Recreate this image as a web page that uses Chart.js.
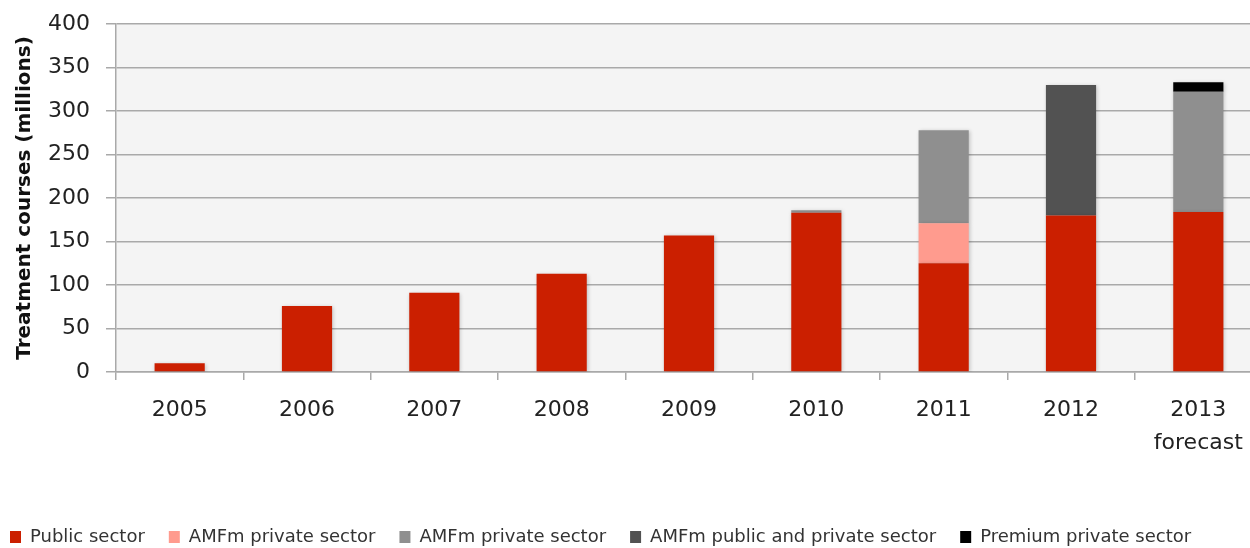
<!DOCTYPE html>
<html>
<head>
<meta charset="utf-8">
<script src="https://cdn.jsdelivr.net/npm/chart.js@4/dist/chart.umd.min.js"></script>
<style>
  html, body { margin: 0; padding: 0; background: #ffffff; overflow: hidden; width: 1250px; height: 548px; }
  canvas { display: block; }
</style>
</head>
<body>
<canvas id="chart" width="1262" height="556"></canvas>
<script>
// Years on the category axis (last one carries a second line)
const categories = ['2005', '2006', '2007', '2008', '2009', '2010', '2011', '2012', ['2013', 'forecast']];

// Treatment courses, millions, per segment of each stacked bar
const publicSector        = [10, 76, 91, 113, 157, 183, 125, 180, 184];
const amfmPrivateFirst    = [null, null, null, null, null, null, 46, null, null];
const amfmPrivateSecond   = [null, null, null, null, null, 3, 107, null, 138];
const amfmPublicPrivate   = [null, null, null, null, null, null, null, 150, null];
const premiumPrivate      = [null, null, null, null, null, null, null, null, 11];

// Value axis ticks
const yTicks = [0, 50, 100, 150, 200, 250, 300, 350, 400];

const FONT = "'DejaVu Sans', 'Open Sans', sans-serif";
const GRID = '#a9a9a9';

// Light grey fill behind the plotting area
const plotBackground = {
  id: 'plotBackground',
  beforeDraw(chart) {
    const { ctx, chartArea: a } = chart;
    ctx.save();
    ctx.fillStyle = '#f4f4f4';
    ctx.fillRect(a.left, a.top, a.right - a.left, a.bottom - a.top);
    ctx.restore();
  }
};

// Soft drop shadow under the bars
const barShadow = {
  id: 'barShadow',
  beforeDatasetsDraw(chart) {
    const ctx = chart.ctx;
    ctx.save();
    ctx.shadowColor = 'rgba(0,0,0,0.22)';
    ctx.shadowBlur = 4;
    ctx.shadowOffsetX = 1;
    ctx.shadowOffsetY = 1;
  },
  afterDatasetsDraw(chart) {
    chart.ctx.restore();
  }
};

// Pull the legend row to the left edge
const legendShift = {
  id: 'legendShift',
  afterLayout(chart) {
    if (chart.legend) {
      chart.legend.left -= 14;
    }
  }
};

function seg(label, data, color) {
  return {
    label,
    data,
    backgroundColor: color,
    borderWidth: 0,
    barPercentage: 0.394,
    categoryPercentage: 1.0
  };
}

new Chart(document.getElementById('chart'), {
  type: 'bar',
  data: {
    labels: categories,
    datasets: [
      seg('Public sector', publicSector, '#cb1f00'),
      seg('AMFm private sector', amfmPrivateFirst, '#ff9b8e'),
      seg('AMFm private sector', amfmPrivateSecond, '#8f8f8f'),
      seg('AMFm public and private sector', amfmPublicPrivate, '#525252'),
      seg('Premium private sector', premiumPrivate, '#000000')
    ]
  },
  options: {
    responsive: false,
    animation: false,
    devicePixelRatio: 1,
    layout: { padding: { top: 24, right: 0, bottom: 0, left: 0 } },
    plugins: {
      tooltip: { enabled: false },
      legend: {
        position: 'bottom',
        align: 'start',
        labels: {
          boxWidth: 11,
          boxHeight: 12,
          padding: 24,
          color: '#333333',
          font: { family: FONT, size: 18 }
        }
      }
    },
    scales: {
      x: {
        stacked: true,
        grid: {
          display: true,
          drawOnChartArea: false,
          drawTicks: true,
          tickLength: 8,
          color: GRID,
          lineWidth: 1.5,
          offset: true
        },
        border: { display: true, color: GRID, width: 1.5 },
        ticks: {
          color: '#222222',
          padding: 14,
          maxRotation: 0,
          autoSkip: false,
          font: { family: FONT, size: 22, lineHeight: 1.5 }
        },
        afterFit(scale) { scale.height = 132; }
      },
      y: {
        stacked: true,
        min: 0,
        max: 400,
        afterBuildTicks(scale) {
          scale.ticks = yTicks.map(v => ({ value: v }));
        },
        grid: {
          color: GRID,
          lineWidth: 1.5,
          tickLength: 10
        },
        border: { display: true, color: GRID, width: 1.5 },
        ticks: {
          color: '#222222',
          padding: 16,
          font: { family: FONT, size: 22, lineHeight: 0.6 }
        },
        title: {
          display: true,
          text: 'Treatment courses (millions)',
          color: '#111111',
          padding: { top: 13, bottom: 0 },
          font: { family: FONT, size: 20, weight: 'bold' }
        },
        afterFit(scale) { scale.width = 116; }
      }
    }
  },
  plugins: [plotBackground, barShadow, legendShift]
});
</script>
</body>
</html>
